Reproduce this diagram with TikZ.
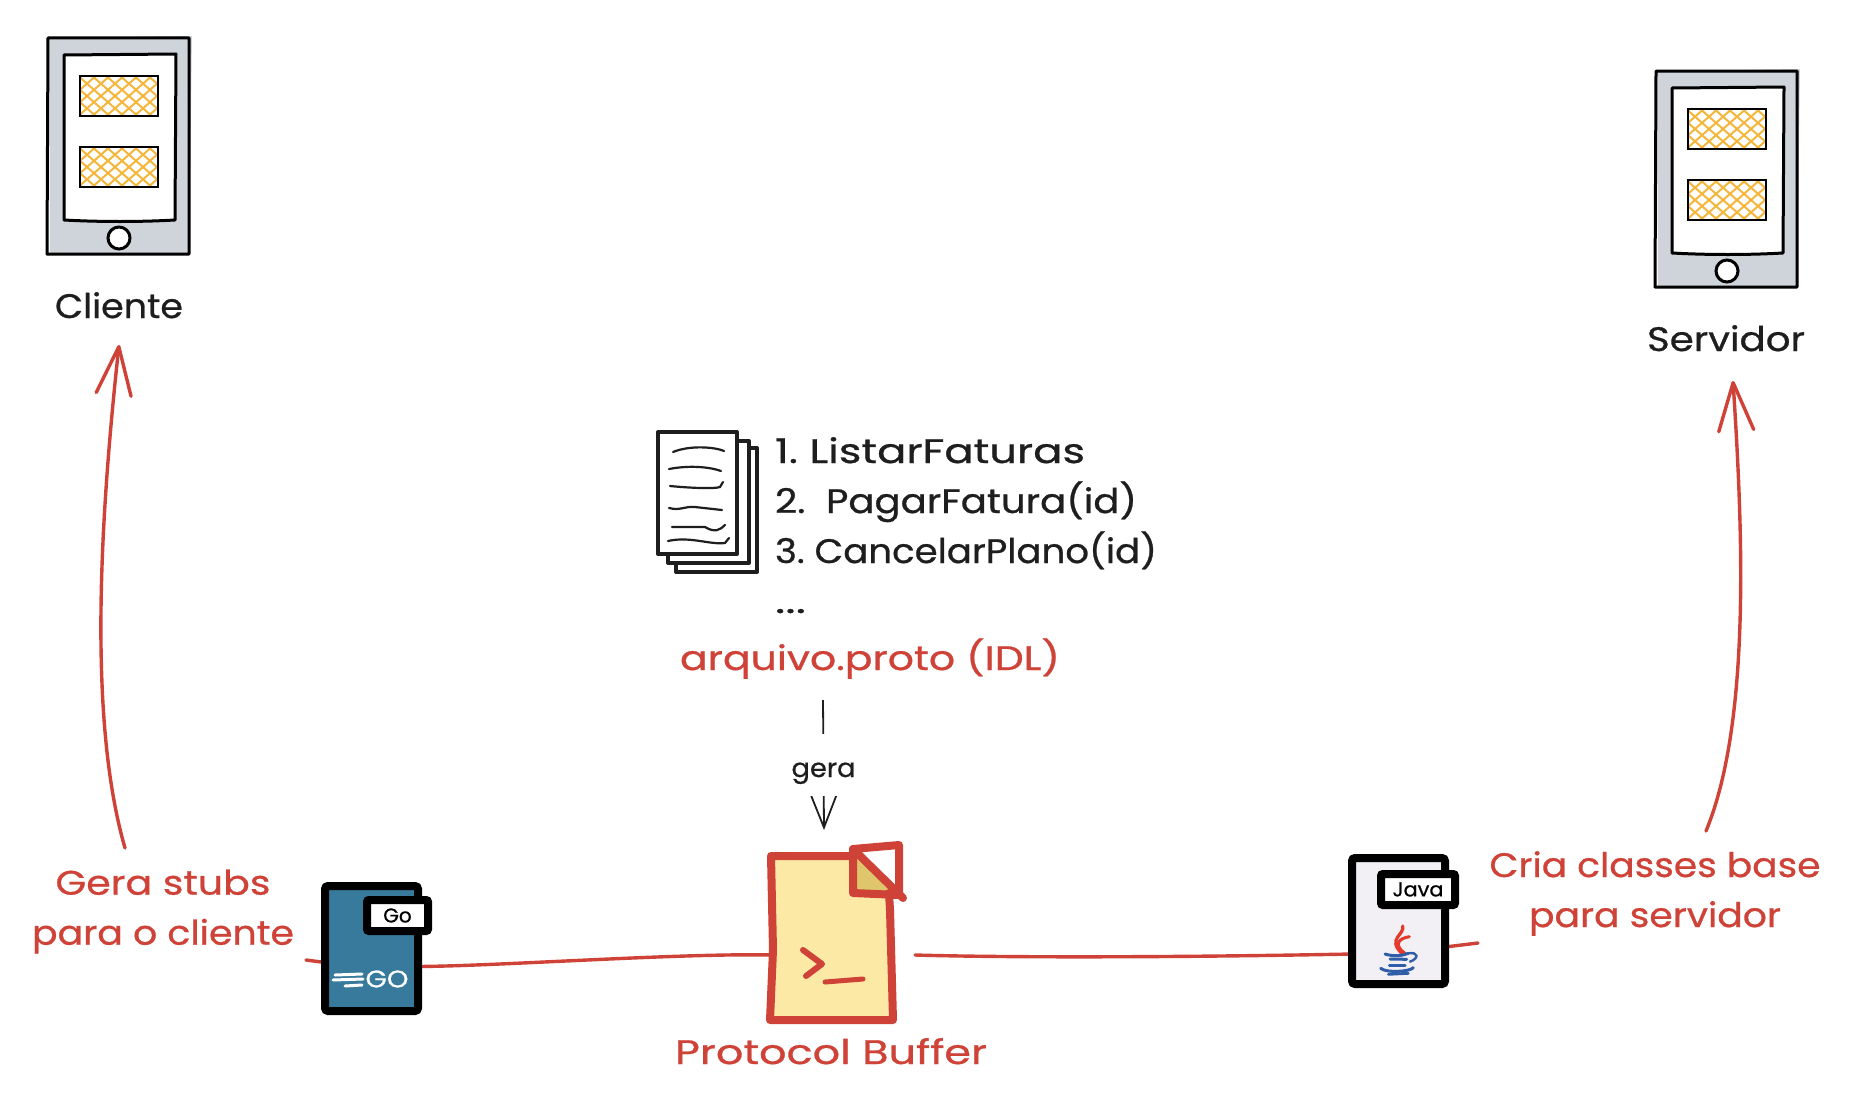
\documentclass[tikz,border=0pt]{standalone}
\usepackage{fontspec}
\setmainfont{Poppins}[FakeBold=0.7]
\usetikzlibrary{arrows.meta,backgrounds,calc}
\definecolor{redline}{HTML}{CF4238}
\definecolor{ink}{HTML}{1E1E1E}
\definecolor{phonegray}{HTML}{CED4DA}
\definecolor{hatchorange}{HTML}{F4B73C}
\definecolor{pbfill}{HTML}{FCE9A6}
\definecolor{pbfold}{HTML}{DFC56C}
\definecolor{goblue}{HTML}{387A9B}
\definecolor{javafill}{HTML}{F2F0F4}
\definecolor{javared}{HTML}{E5392B}
\definecolor{javablue}{HTML}{2F5DA8}
\newcommand{\fitw}[2]{\resizebox{#1pt}{\height}{#2}}
\newcommand{\hatchbox}[4]{%
  \begin{scope}
    \clip (#1,#2) rectangle (#3,#4);
    \foreach \k in {-60,-46,...,140} {
      \draw[hatchorange,line width=2pt] (#1+\k,#2-2) -- (#1+\k+50,#4+2);
      \draw[hatchorange,line width=2pt] (#1+\k+50,#2-2) -- (#1+\k,#4+2);
    }
  \end{scope}
  \draw[black,line width=2.6pt] (#1,#2) rectangle (#3,#4);
}
\newcommand{\phone}[2]{%
  \begin{scope}[shift={(#1pt,-#2pt)}]
    \fill[phonegray] (49,38) -- (192,36) -- (189,254) -- (50,254) -- cycle;
    \draw[black,line width=3pt,line join=round] (48,38) -- (189,38) -- (189,254) -- (47,254) -- cycle;
    \draw[black,line width=3pt,fill=white,line join=round] (64,55) -- (176,54) -- (175,220) .. controls (140,222) and (100,222) .. (64,220) -- cycle;
    \hatchbox{80}{76}{158}{116}
    \hatchbox{80}{147}{158}{187}
    \draw[black,line width=3pt,fill=white] (119,238) circle (11);
  \end{scope}}
\tikzset{
  hand/.style={inner sep=0pt,outer sep=0pt,font=\fontsize{34}{50}\selectfont},
  inktext/.style={hand,text=ink},
  redtext/.style={hand,text=redline},
  redwire/.style={draw=redline,line width=3.4pt,line cap=round},
  bigarrow/.style={redwire,-{Straight Barb[length=48pt,width=35pt,round]}},
  sheet/.style={draw=ink,line width=4pt,fill=white,line join=round},
  scrib/.style={draw=ink,line width=2.2pt,line cap=round},
  doccard/.style={draw=black,line width=8pt,rounded corners=3pt,outer sep=0pt,inner sep=0pt},
  doctag/.style={draw=black,fill=white,line width=8pt,rounded corners=2pt,outer sep=0pt,inner sep=0pt,font=\fontsize{20}{22}\selectfont},
  pbline/.style={draw=redline,line width=8pt,line cap=round,line join=round},
}
\begin{document}
\begin{tikzpicture}[x=1pt,y=-1pt]
\useasboundingbox (0,0) rectangle (1854,1108);
% phones
\phone{0}{0}
\phone{1608}{33}
\node[inktext,anchor=base] (cliente) at (119,318) {\fitw{128}{Cliente}};
\node[inktext,anchor=base] (servidor) at (1726,351) {\fitw{158}{Servidor}};
% stack of sheets
\draw[sheet] (676,448) -- (757,448) -- (757,572) -- (676,572) -- cycle;
\draw[sheet] (668,441) -- (749,441) -- (749,563) -- (668,563) -- cycle;
\draw[sheet] (658,432) -- (737,432) -- (737,554) -- (658,554) -- cycle;
\draw[scrib] (673,452) .. controls (690,445) and (715,447) .. (724,451);
\draw[scrib] (669,469) .. controls (690,465) and (710,467) .. (721,471);
\draw[scrib] (670,486) .. controls (690,488) and (715,489) .. (720,487) -- (723,482);
\draw[scrib] (669,508) .. controls (680,511) and (685,506) .. (695,507) -- (722,510);
\draw[scrib] (672,527) -- (705,527) .. controls (715,533) and (720,530) .. (725,525);
\draw[scrib] (668,541) .. controls (690,536) and (710,545) .. (725,543) -- (729,538);
% list text
\node[inktext,anchor=base west] (item1) at (775,463) {\fitw{310}{1.\ ListarFaturas}};
\node[inktext,anchor=base west] (item2) at (775,513) {\fitw{362}{2.\ \ PagarFatura(id)}};
\node[inktext,anchor=base west] (item3) at (775,563) {\fitw{382}{3.\ CancelarPlano(id)}};
\node[inktext,anchor=base west] (item4) at (775,613) {\fitw{31}{...}};
\node[redtext,anchor=base west] (arquivo) at (680,670) {\fitw{380}{arquivo.proto (IDL)}};
% documents
\node[doccard,fill=goblue,minimum width=93pt,minimum height=125pt] (godoc) at (371.5,948.5) {};
\node[doctag] (gotag) at (397.5,915.5) [minimum width=61pt,minimum height=31pt] {Go};
\draw[white,line width=3pt,line cap=round] (335,975) -- (362,974);
\draw[white,line width=3pt,line cap=round] (333,980) -- (363,979);
\draw[white,line width=3pt,line cap=round] (345,986) -- (362,985);
\node[inner sep=0pt,text=white,font=\fontsize{24}{26}\selectfont] (gologo) at (387,979) {\fitw{43}{GO}};
\node[doccard,fill=javafill,minimum width=93pt,minimum height=126pt] (javadoc) at (1398.5,921) {};
\node[doctag,minimum width=74pt,minimum height=31pt] (javatag) at (1418,889.5) {\fitw{51}{Java}};
% java cup
\begin{scope}[shift={(1330pt,-840pt)},x=0.3333pt,y=-0.3333pt]
  \draw[draw=javared,line width=3.2pt,line cap=round] (218,258) .. controls (225,285) and (170,295) .. (215,340);
  \draw[draw=javared,line width=3pt,line cap=round] (238,290) .. controls (205,295) and (190,315) .. (225,340);
  \draw[draw=javablue,line width=3pt,line cap=round] (165,342) .. controls (190,350) and (215,348) .. (235,340);
  \draw[draw=javablue,line width=3pt,line cap=round] (180,357) -- (230,358);
  \draw[draw=javablue,line width=3pt,line cap=round] (178,378) -- (225,378);
  \draw[draw=javablue,line width=3pt,line cap=round] (152,385) .. controls (170,400) and (240,395) .. (250,383);
  \draw[draw=javablue,line width=2.8pt,line cap=round] (175,403) -- (235,400);
  \draw[draw=javablue,line width=2.4pt,line cap=round] (235,340) .. controls (265,335) and (268,355) .. (240,365);
\end{scope}
% proto file
\node[outer sep=0pt,inner sep=0pt,minimum width=120pt,minimum height=164pt] (pbdoc) at (832,938) {};
\fill[pbfill] (771,856) -- (853,856) -- (853,893) -- (892,893) -- (895,1020) -- (771,1020) -- cycle;
\fill[white] (853,849) -- (899,845) -- (900,896) -- cycle;
\fill[pbfold] (853,849) -- (899,895) -- (853,893) -- cycle;
\draw[pbline] (853,856) -- (771,856) -- (773,950) -- (770,1020) -- (893,1020) -- (890,910) -- (889,893);
\draw[pbline] (853,893) -- (853,849) -- (899,845) -- (899,895) -- (853,893);
\draw[pbline] (853,849) -- (903,898);
\draw[pbline,line width=6pt] (803,950) -- (822,964) -- (806,976);
\draw[pbline,line width=5pt] (825,982) -- (863,979);
\node[redtext,anchor=base] (pblabel) at (831,1064) {\fitw{312}{Protocol Buffer}};
% red labels
\node[redtext,align=center] (stubs) at (163,911.5) {\fitw{215}{Gera stubs}\\\fitw{262}{para o cliente}};
\node[redtext,align=center] (cria) at (1655,893.5) {\fitw{331}{Cria classes base}\\\fitw{252}{para servidor}};
% connectors
\begin{scope}[on background layer]
  \draw[redwire] ([xshift=143pt,yshift=-48.5pt]stubs.center) -- ([yshift=-14pt]godoc.west);
  \draw[redwire] ([yshift=-18pt]godoc.east) .. controls (500,966) and (680,953) .. ([yshift=-17pt]pbdoc.west);
  \draw[redwire] ([xshift=23pt,yshift=-17pt]pbdoc.east) .. controls (1020,958) and (1200,957) .. ([yshift=-33pt]javadoc.west);
  \draw[redwire] ([yshift=-26pt]javadoc.east) -- ([xshift=-177pt,yshift=-49.5pt]cria.center);
\end{scope}
\draw[bigarrow] ([xshift=-38pt,yshift=63.5pt]stubs.center) .. controls (88,720) and (100,520) .. ([yshift=-27pt]cliente.base);
\draw[bigarrow] ([xshift=51pt,yshift=62.5pt]cria.center) .. controls (1752,720) and (1742,520) .. ([xshift=7pt,yshift=-30pt]servidor.base);
\draw[draw=ink,line width=1.8pt,-{Straight Barb[length=33pt,width=26pt]}] ([xshift=143pt,yshift=-30pt]arquivo.base west)
  -- node[pos=.5,fill=white,inner sep=0pt,minimum height=62pt,text height=30pt,text depth=6pt,text=ink,font=\fontsize{26}{28}\selectfont] (gera) {\fitw{64}{gera}}
  ([xshift=-8pt,yshift=26pt]pbdoc.north);
\end{tikzpicture}
\end{document}
